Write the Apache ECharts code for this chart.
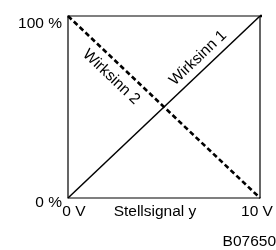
<!DOCTYPE html>
<html>
<head>
<meta charset="utf-8">
<script src="https://cdn.jsdelivr.net/npm/echarts@6/dist/echarts.min.js"></script>
<style>
    html, body { margin: 0; padding: 0; background: #fff; }
    #chart { width: 276px; height: 250px; }
</style>
</head>
<body>
<div id="chart"></div>
<script>
// 数据
const xTicks = [0, 10];
const xTickLabels = ['0 V', '10 V'];
const yTicks = [0, 100];
const yTickLabels = ['0 %', '100 %'];
// Wirksinn 1: steigend, Wirksinn 2: fallend
const wirksinn1 = [[0, 0], [10, 100]];
const wirksinn2 = [[0, 100], [10, 0]];
// kurze Fortsetzung rechts außerhalb des Rahmens
const stub1 = [[10, 100], [10.45, 100]];
const stub2 = [[10.2, 0], [10.45, 0]];
const xName = 'Stellsignal y';
const noteText = 'B07650';
const lineNames = ['Wirksinn 1', 'Wirksinn 2'];
const namePos1 = [6.77, 76.9];
const namePos2 = [2.25, 66.5];

const font = 'Liberation Sans, Arial, sans-serif';
const fs = 15.5;

const chart = echarts.init(document.getElementById('chart'));

// 线条名称标注
function nameMark(text, pos, angle) {
    return {
        symbol: 'circle', symbolSize: 1,
        itemStyle: { color: 'rgba(0,0,0,0)' },
        label: {
            show: true, position: 'inside', formatter: text, rotate: angle,
            color: '#000', fontSize: fs, fontFamily: font
        },
        data: [{ coord: pos }]
    };
}

chart.setOption({
    animation: false,
    backgroundColor: '#fff',
    textStyle: { fontFamily: font },
    grid: {
        left: 68, right: 16, top: 16, bottom: 52,
        show: true, borderColor: '#000', borderWidth: 1.2
    },
    xAxis: {
        type: 'value', min: 0, max: 10, interval: 10,
        name: xName, nameLocation: 'middle', nameGap: 6,
        nameMoveOverlap: false,
        nameTextStyle: {
            color: '#000', fontSize: fs, fontFamily: font,
            verticalAlign: 'top', padding: [0, 18, 0, 0]
        },
        axisLine: { show: false },
        axisTick: { show: false },
        splitLine: { show: false },
        axisLabel: {
            margin: 6, color: '#000', fontSize: fs, fontFamily: font,
            formatter: function (v) {
                const i = xTicks.indexOf(v);
                if (i === 0) return '{a|' + xTickLabels[i] + '}';
                if (i === 1) return '{b|' + xTickLabels[i] + '}';
                return '';
            },
            rich: {
                a: { fontSize: fs, color: '#000', fontFamily: font, padding: [0, 0, 0, 12] },
                b: { fontSize: fs, color: '#000', fontFamily: font, padding: [0, 6, 0, 0] }
            }
        }
    },
    yAxis: {
        type: 'value', min: 0, max: 100, interval: 100,
        axisLine: { show: false },
        axisTick: { show: false },
        splitLine: { show: false },
        axisLabel: {
            margin: 6, color: '#000', fontSize: fs, fontFamily: font,
            formatter: function (v) {
                const i = yTicks.indexOf(v);
                if (i === 0) return '{a|' + yTickLabels[i] + '}';
                if (i === 1) return '{b|' + yTickLabels[i] + '}';
                return '';
            },
            rich: {
                a: { fontSize: fs, color: '#000', fontFamily: font, padding: [9, 0, 0, 0] },
                b: { fontSize: fs, color: '#000', fontFamily: font, padding: [16, 0, 0, 0] }
            }
        }
    },
    graphic: [
        {
            type: 'text', right: 0, bottom: 0,
            style: { text: noteText, fill: '#000', font: fs + 'px ' + font }
        }
    ],
    series: [
        {
            type: 'line', data: wirksinn1, showSymbol: false, clip: false,
            lineStyle: { color: '#000', width: 1.5 },
            markPoint: nameMark(lineNames[0], namePos1, 43.5)
        },
        {
            type: 'line', data: wirksinn2, showSymbol: false, clip: false,
            lineStyle: { color: '#000', width: 2.6, type: [5, 3] },
            markPoint: nameMark(lineNames[1], namePos2, -43.5)
        },
        {
            type: 'line', data: stub1, showSymbol: false, clip: false,
            lineStyle: { color: '#000', width: 2.4 }
        },
        {
            type: 'line', data: stub2, showSymbol: false, clip: false,
            lineStyle: { color: '#000', width: 2.6 }
        }
    ]
});
</script>
</body>
</html>
